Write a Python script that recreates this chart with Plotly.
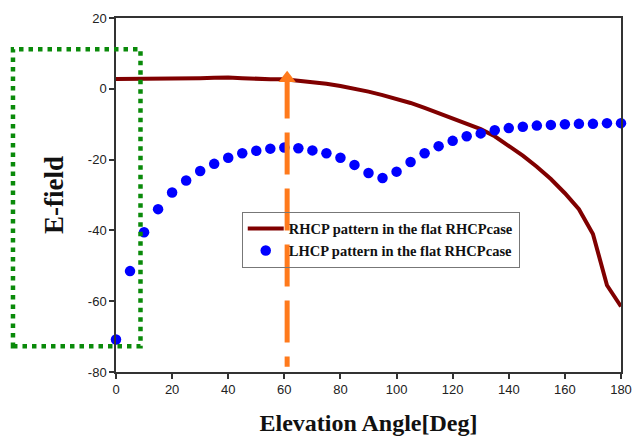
import plotly.graph_objects as go

# ---- data ----
angles = [0, 5, 10, 15, 20, 25, 30, 35, 40, 45, 50, 55, 60, 65, 70, 75, 80, 85, 90,
          95, 100, 105, 110, 115, 120, 125, 130, 135, 140, 145, 150, 155, 160, 165,
          170, 175, 180]
rhcp = [2.8, 2.8, 2.8, 2.8, 2.9, 2.9, 3.0, 3.1, 3.2, 3.0, 2.8, 2.7, 2.7, 2.3, 1.8,
        1.4, 0.8, 0.1, -0.8, -1.8, -2.9, -4.0, -5.4, -6.9, -8.3, -9.8, -11.4,
        -13.4, -16.0, -18.9, -22.0, -25.5, -29.5, -34.0, -41.0, -55.5, -61.5]
lhcp = [-70.8, -51.5, -40.5, -34.0, -29.3, -25.9, -23.2, -21.2, -19.5, -18.2, -17.5,
        -16.9, -16.6, -16.8, -17.4, -18.2, -19.5, -21.5, -23.8, -25.2, -23.4, -20.7,
        -18.2, -16.2, -14.7, -13.4, -12.6, -11.7, -11.1, -10.7, -10.4, -10.2, -10.0,
        -9.9, -9.9, -9.7, -9.7]
rhcp_name = "RHCP pattern in the flat RHCPcase"
lhcp_name = "LHCP pattern in the flat RHCPcase"

arrow_x = [61, 61]
arrow_y = [3.5, -78.5]
arrow_head_x = [61]
arrow_head_y = [3.0]

x_tick_vals = [0, 20, 40, 60, 80, 100, 120, 140, 160, 180]
x_tick_text = ["0", "20", "40", "60", "80", "100", "120", "140", "160", "180"]
y_tick_vals = [-80, -60, -40, -20, 0, 20]
y_tick_text = ["-80", "-60", "-40", "-20", "0", "20"]

x_title = "Elevation Angle[Deg]"
y_title = "E-field"

# ---- figure ----
fig = go.Figure()
fig.add_trace(go.Scatter(
    x=angles, y=rhcp, mode="lines", name=rhcp_name,
    line=dict(color="#800000", width=4), cliponaxis=False))
fig.add_trace(go.Scatter(
    x=angles, y=lhcp, mode="markers", name=lhcp_name,
    marker=dict(color="#0000FF", size=10.5, line=dict(width=0)), cliponaxis=False))
fig.add_trace(go.Scatter(
    x=arrow_x, y=arrow_y, mode="lines", showlegend=False, hoverinfo="skip",
    line=dict(color="#FF7A1C", width=5, dash="42px,14px"), cliponaxis=False))
fig.add_trace(go.Scatter(
    x=arrow_head_x, y=arrow_head_y, mode="markers", showlegend=False, hoverinfo="skip",
    marker=dict(symbol="triangle-up", color="#FF7A1C", size=15, line=dict(width=0)),
    cliponaxis=False))

# green dotted highlight box
fig.add_shape(type="rect", xref="paper", yref="paper",
              x0=-0.204, x1=0.0485, y0=0.073, y1=0.912,
              line=dict(color="#0A8A0A", width=4.5, dash="4.5px,5px"),
              fillcolor="rgba(0,0,0,0)", layer="above")

tick_font = dict(family="Liberation Sans, Arial, sans-serif", size=13, color="#222222")
title_font_x = dict(family="Liberation Serif, Times New Roman, serif", size=24,
                    color="#111111", weight="bold")
title_font_y = dict(family="Liberation Serif, Times New Roman, serif", size=27,
                    color="#111111", weight="bold")

fig.update_layout(
    width=633, height=436,
    margin=dict(l=116, r=12, t=18, b=64, autoexpand=False),
    paper_bgcolor="white", plot_bgcolor="white",
    showlegend=True,
    legend=dict(
        x=0.249, y=0.453, xanchor="left", yanchor="top",
        bgcolor="rgba(255,255,255,0)", bordercolor="#777777", borderwidth=1,
        font=dict(family="Liberation Serif, Times New Roman, serif", size=14.5,
                  color="#111111", weight="bold"),
        tracegroupgap=0, itemwidth=36,
    ),
    xaxis=dict(
        range=[0, 180], tickmode="array", tickvals=x_tick_vals, ticktext=x_tick_text,
        ticks="outside", ticklen=5, tickwidth=1.5, tickcolor="#333333",
        showline=True, linecolor="#333333", linewidth=1.5, mirror=True,
        showgrid=False, zeroline=False, tickfont=tick_font, automargin=False,
        title=dict(text=x_title, font=title_font_x, standoff=18),
    ),
    yaxis=dict(
        range=[-80, 20], tickmode="array", tickvals=y_tick_vals, ticktext=y_tick_text,
        ticks="outside", ticklen=5, tickwidth=1.5, tickcolor="#333333",
        showline=True, linecolor="#333333", linewidth=1.5, mirror=True,
        showgrid=False, zeroline=False, tickfont=tick_font, automargin=False,
        title=dict(text=y_title, font=title_font_y, standoff=16),
    ),
)

fig.write_html(
    "out.html",
    config={"displayModeBar": False},
    post_script="document.body.style.margin='0';document.body.style.overflow='hidden';",
)
